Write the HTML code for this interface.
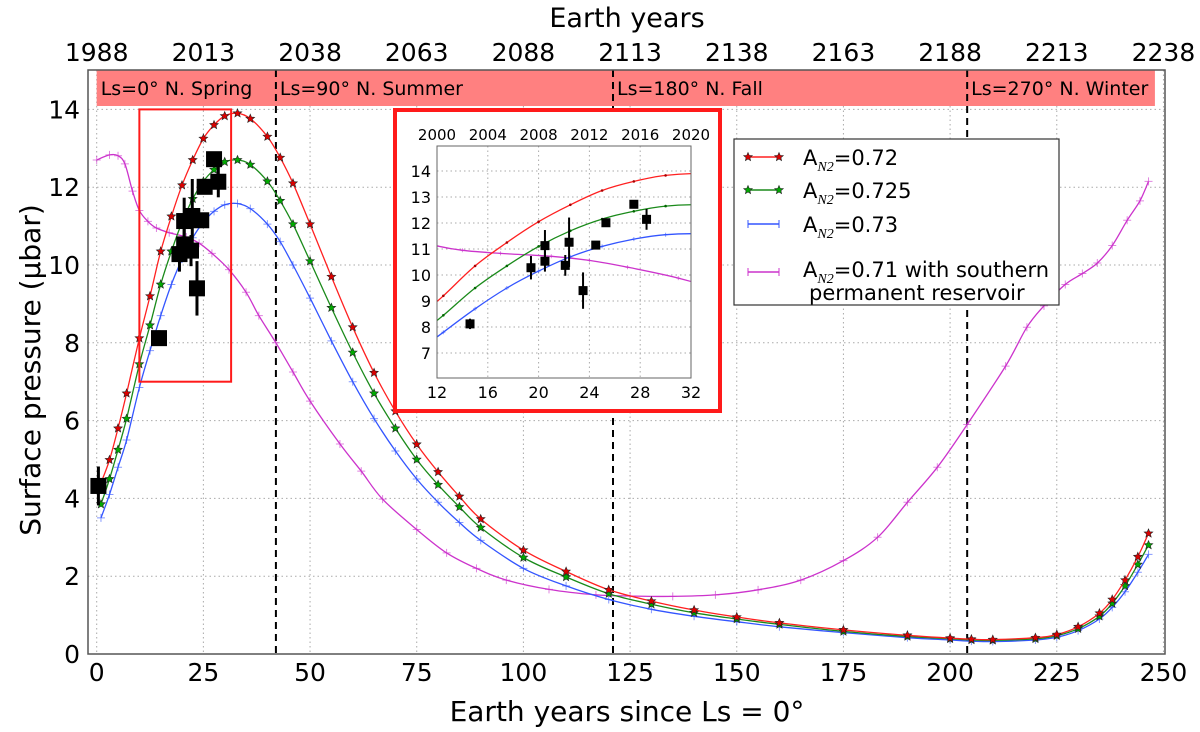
<!DOCTYPE html>
<html><head><meta charset="utf-8">
<style>
html,body{margin:0;padding:0;background:#fff;}
svg{display:block;font-family:"DejaVu Sans","Liberation Sans",sans-serif;}
</style></head>
<body>
<svg id="chart" width="1200" height="732" viewBox="0 0 1200 732" xmlns="http://www.w3.org/2000/svg">
<g id="grid"></g>
<g id="band"></g>
<g id="series"></g>
<g id="axes"></g>
<g id="inset"></g>
<g id="legend"></g>
</svg>
<script>
const years = [1,3,5,7,10,12.5,15,17.5,20,22.5,25,27.5,30,33,36,40,43,46,50,55,60,65,70,75,80,85,90,100,110,120,130,140,150,160,175,190,200,205,210,220,225,230,235,238,241,244,246.5];
const red = [4.4,4.99,5.8,6.7,8.12,9.2,10.35,11.25,12.05,12.7,13.25,13.6,13.83,13.9,13.76,13.3,12.76,12.1,11.05,9.7,8.4,7.23,6.24,5.39,4.68,4.05,3.47,2.67,2.12,1.65,1.36,1.13,0.95,0.8,0.62,0.48,0.41,0.38,0.37,0.42,0.5,0.7,1.05,1.4,1.9,2.5,3.1];
const green = [3.85,4.5,5.25,6.05,7.45,8.45,9.5,10.35,11.1,11.7,12.15,12.45,12.65,12.7,12.58,12.15,11.65,11.05,10.1,8.9,7.75,6.7,5.8,5.0,4.35,3.78,3.25,2.48,1.98,1.55,1.28,1.06,0.9,0.76,0.58,0.45,0.39,0.36,0.35,0.39,0.47,0.65,0.97,1.3,1.75,2.3,2.8];
const blue = [3.5,4.1,4.8,5.5,6.85,7.8,8.7,9.5,10.15,10.7,11.1,11.38,11.55,11.58,11.45,11.05,10.6,10.0,9.15,8.05,7.0,6.05,5.22,4.5,3.9,3.38,2.92,2.2,1.75,1.4,1.15,0.97,0.83,0.7,0.55,0.42,0.36,0.33,0.32,0.36,0.43,0.6,0.9,1.2,1.6,2.1,2.56];
const magYears = [0,3,5,6.6,8.4,10,12,14,17,21,24,27,31,35,38,42,46,50,57,62,67,75,82,89,96,106,117,125,135,145,155,165,175,183,190,197,204,213,218,222,227,231,234.5,238,241.5,244.5,246.5];
const magenta = [12.7,12.83,12.81,12.6,11.9,11.4,11.12,10.95,10.83,10.72,10.56,10.3,9.88,9.3,8.7,8.0,7.25,6.5,5.4,4.7,3.98,3.2,2.6,2.2,1.9,1.66,1.52,1.49,1.48,1.52,1.65,1.9,2.4,3.0,3.9,4.8,5.9,7.4,8.4,8.95,9.5,9.78,10.05,10.5,11.15,11.65,12.15];
const obsYears = [0.4,14.6,19.4,20.5,20.5,22.1,22.4,23.5,24.5,25.3,27.5,28.5];
const obsValues = [4.32,8.12,10.28,11.13,10.53,10.37,11.26,9.4,11.15,12.01,12.72,12.14];
const obsErrors = [0.5,0.2,0.45,0.6,0.4,0.4,0.95,0.7,0.1,0.1,0.1,0.4];
const xTicks = [0,25,50,75,100,125,150,175,200,225,250];
const yTicks = [0,2,4,6,8,10,12,14];
const topTicks = [1988,2013,2038,2063,2088,2113,2138,2163,2188,2213,2238];
const seasonStarts = [42,121,204];
const seasonLabels = ["Ls=0°  N. Spring","Ls=90°  N. Summer","Ls=180°  N. Fall","Ls=270°  N. Winter"];
const seasonLabelYears = [0,42,121,204];
const insetXTicks = [12,16,20,24,28,32];
const insetYTicks = [7,8,9,10,11,12,13,14];
const insetTopTicks = [2000,2004,2008,2012,2016,2020];

const NS="http://www.w3.org/2000/svg";
function mk(tag,attrs,parent,text){const e=document.createElementNS(NS,tag);for(const k in attrs)e.setAttribute(k,attrs[k]);if(text!==undefined)e.textContent=text;parent.appendChild(e);return e;}
const L=88,R=1165,T=70,B=654;
const X=v=>96.7+4.267*v;
const Y=v=>654-38.9*v;
const grid=document.getElementById('grid'),band=document.getElementById('band'),ser=document.getElementById('series'),axes=document.getElementById('axes'),ins=document.getElementById('inset'),leg=document.getElementById('legend');

function smooth(pts){let d="M"+pts[0][0].toFixed(1)+","+pts[0][1].toFixed(1);for(let i=0;i<pts.length-1;i++){const p0=pts[i-1]||pts[i],p1=pts[i],p2=pts[i+1],p3=pts[i+2]||p2;const c1=[p1[0]+(p2[0]-p0[0])/6,p1[1]+(p2[1]-p0[1])/6],c2=[p2[0]-(p3[0]-p1[0])/6,p2[1]-(p3[1]-p1[1])/6];d+="C"+c1[0].toFixed(1)+","+c1[1].toFixed(1)+" "+c2[0].toFixed(1)+","+c2[1].toFixed(1)+" "+p2[0].toFixed(1)+","+p2[1].toFixed(1);}return d;}
function star(cx,cy,r){let s="";for(let i=0;i<10;i++){const a=-Math.PI/2+i*Math.PI/5,rr=i%2?r*0.45:r;s+=(cx+rr*Math.cos(a)).toFixed(1)+","+(cy+rr*Math.sin(a)).toFixed(1)+" ";}return s;}

xTicks.forEach(t=>{const g=mk('line',{x1:X(t),x2:X(t),y1:T,y2:B,stroke:'#aaa','stroke-width':1,'stroke-dasharray':'1.5,3'},grid);});
yTicks.forEach(t=>{const g=mk('line',{x1:L,x2:R,y1:Y(t),y2:Y(t),stroke:'#aaa','stroke-width':1,'stroke-dasharray':'1.5,3'},grid);});

const br=mk('rect',{x:X(0),y:T,width:X(248)-X(0),height:36,fill:'#ff8080'},band);

seasonLabels.forEach((s,i)=>{const t=mk('text',{x:X(seasonLabelYears[i])+4,y:95,'font-size':19,fill:'#000','xml:space':'preserve'},band,s);});
seasonStarts.forEach(s=>{const l=mk('line',{x1:X(s),x2:X(s),y1:T,y2:B,stroke:'#000','stroke-width':2,'stroke-dasharray':'7,5'},band);});

function drawSeries(xs,ys,color,marker,name,g,fx,fy,ms){
  const pts=xs.map((x,i)=>[fx(x),fy(ys[i])]);
  const p=mk('path',{d:smooth(pts),fill:'none',stroke:color,'stroke-width':1.3},g);
  
  pts.forEach(q=>{let m;
    if(marker==='star'){m=mk('polygon',{points:star(q[0],q[1],ms),fill:color==='#ff2020'?'#d00':'#0a0',stroke:'#222','stroke-width':0.6},g);}
    else if(marker==='dot'){m=mk('circle',{cx:q[0],cy:q[1],r:ms,fill:color==='#ff2020'?'#a00':'#060'},g);}
    else{m=mk('path',{d:`M${q[0]-ms},${q[1]}h${2*ms}M${q[0]},${q[1]-ms}v${2*ms}`,stroke:color,'stroke-width':1,opacity:0.6},g);}
    });
}
drawSeries(magYears,magenta,'#cc33cc','plus','magenta-series',ser,X,Y,4);
drawSeries(years,blue,'#3355ff','plus','blue-series',ser,X,Y,4);
drawSeries(years,green,'#1a8a1a','star','green-series',ser,X,Y,4.5);
drawSeries(years,red,'#ff2020','star','red-series',ser,X,Y,4.5);

function drawObs(g,fx,fy,sz,lw){obsYears.forEach((yr,i)=>{const cx=fx(yr),cy=fy(obsValues[i]);
  const e=mk('line',{x1:cx,x2:cx,y1:fy(obsValues[i]+obsErrors[i]),y2:fy(obsValues[i]-obsErrors[i]),stroke:'#000','stroke-width':lw},g);
  
  const r=mk('rect',{x:cx-sz/2,y:cy-sz/2,width:sz,height:sz,fill:'#000'},g);
  });}
drawObs(ser,X,Y,16,3);

mk('rect',{x:X(10),y:Y(14),width:X(31.5)-X(10),height:Y(7)-Y(14),fill:'none',stroke:'#ff1a1a','stroke-width':2,},ser);

mk('rect',{x:L,y:T,width:R-L,height:B-T,fill:'none',stroke:'#555','stroke-width':1.5,},axes);
xTicks.forEach(t=>{const tx=mk('text',{x:X(t),y:681,'font-size':25,'text-anchor':'middle'},axes,t);});
yTicks.forEach(t=>{const tx=mk('text',{x:80,y:Y(t)+9,'font-size':25,'text-anchor':'end'},axes,t);});
topTicks.forEach((t,i)=>{const tx=mk('text',{x:X(xTicks[i]),y:61,'font-size':25,'text-anchor':'middle'},axes,t);});
mk('text',{x:627,y:27,'font-size':27,'text-anchor':'middle',},axes,'Earth years');
mk('text',{x:627,y:721,'font-size':28,'text-anchor':'middle',},axes,'Earth years since Ls = 0°');
mk('text',{x:0,y:0,'font-size':28,'text-anchor':'middle',transform:'translate(40,370) rotate(-90)',},axes,'Surface pressure (μbar)');

mk('rect',{x:395,y:110,width:325,height:301,fill:'#fff',stroke:'#ff1a1a','stroke-width':4,},ins);
const IL=437,IR=691,IT=146,IB=378;
const IX=v=>IL+(v-12)*(IR-IL)/20;
const IY=v=>171+(14-v)*26;
insetXTicks.forEach(t=>{const l=mk('line',{x1:IX(t),x2:IX(t),y1:IT,y2:IB,stroke:'#aaa','stroke-dasharray':'1.5,3'},ins);
  const tx=mk('text',{x:IX(t),y:398,'font-size':16,'text-anchor':'middle'},ins,t);});
insetYTicks.forEach(t=>{const l=mk('line',{x1:IL,x2:IR,y1:IY(t),y2:IY(t),stroke:'#aaa','stroke-dasharray':'1.5,3'},ins);
  const tx=mk('text',{x:431,y:IY(t)+6,'font-size':16,'text-anchor':'end'},ins,t);});
insetTopTicks.forEach((t,i)=>{const tx=mk('text',{x:IX(insetXTicks[i]),y:140,'font-size':15,'text-anchor':'middle'},ins,t);});
mk('clipPath',{id:'ic'},ins);
mk('rect',{x:IL,y:IT,width:IR-IL,height:IB-IT},document.getElementById('ic'));
const ig=mk('g',{'clip-path':'url(#ic)',},ins);
drawSeries(magYears,magenta,'#cc33cc','plus','inset-magenta',ig,IX,IY,2);
drawSeries(years,blue,'#3355ff','plus','inset-blue',ig,IX,IY,2);
drawSeries(years,green,'#1a8a1a','dot','inset-green',ig,IX,IY,1.3);
drawSeries(years,red,'#ff2020','dot','inset-red',ig,IX,IY,1.3);
drawObs(ig,IX,IY,9,2);
mk('rect',{x:IL,y:IT,width:IR-IL,height:IB-IT,fill:'none',stroke:'#666','stroke-width':1,},ins);

mk('rect',{x:734,y:139,width:325,height:166,fill:'#fff',stroke:'#333','stroke-width':1.2,},leg);
const legColors=['#ff2020','#1a8a1a','#3355ff','#cc33cc'];
const legVals=['0.72','0.725','0.73','0.71 with southern'];
const legY=[157,190,224,272];
legColors.forEach((c,i)=>{
  const g=mk('g',{},leg);
  mk('line',{x1:748,x2:779,y1:legY[i],y2:legY[i],stroke:c,'stroke-width':1.5},g);
  [748,779].forEach(px=>{ if(i<2) mk('polygon',{points:star(px,legY[i],4.5),fill:i===0?'#d00':'#0a0',stroke:'#222','stroke-width':0.6},g); else mk('path',{d:`M${px},${legY[i]-4}v8`,stroke:c,'stroke-width':1},g);});
  const t=mk('text',{x:803,y:legY[i]+(i===3?5:8),'font-size':21},g);
  mk('tspan',{},t,'A');
  mk('tspan',{'font-size':14,'font-style':'italic','font-family':'Liberation Serif, serif',dy:6},t,'N2');
  mk('tspan',{dy:-6},t,'='+legVals[i]);
});
mk('text',{x:809,y:300,'font-size':21,},leg,'permanent reservoir');
</script>
</body></html>
